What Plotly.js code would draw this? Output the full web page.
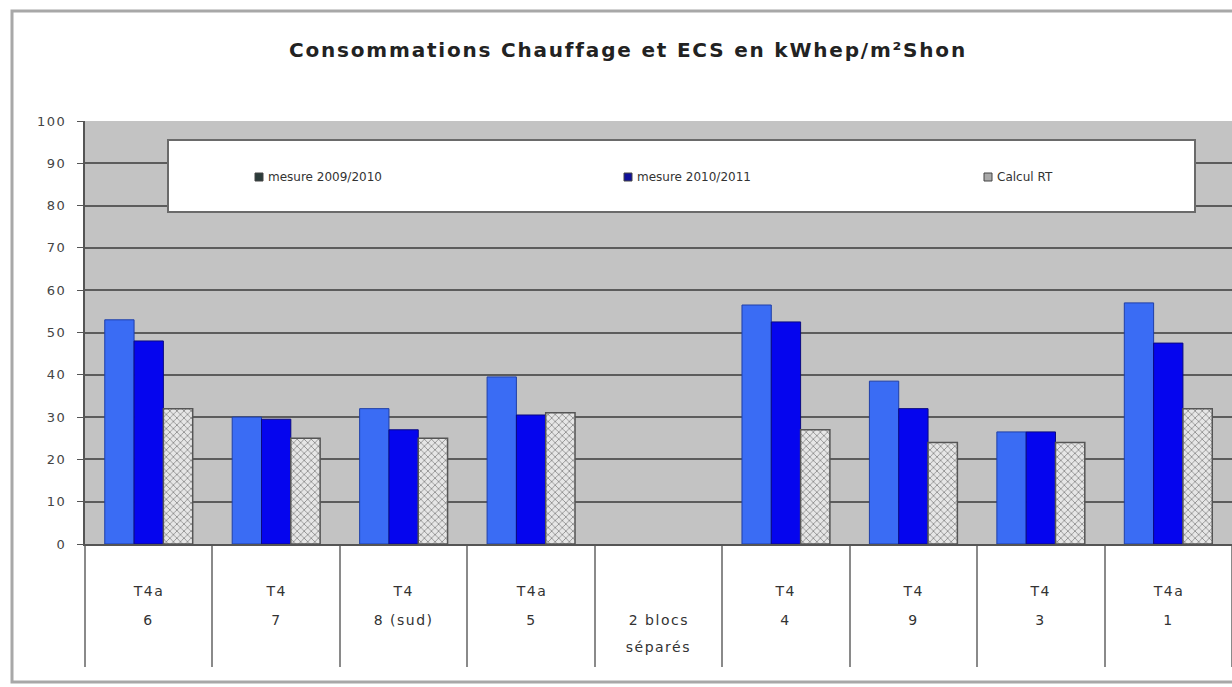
<!DOCTYPE html>
<html>
<head>
<meta charset="utf-8">
<script src="https://cdn.plot.ly/plotly-3.0.1.min.js"></script>
<style>
  html, body { margin: 0; padding: 0; background: #ffffff; }
  #chart { width: 1232px; height: 687px; }
  /* wide lettering for the title and table text */
  #chart .gtitle { letter-spacing: 1.8px; }
  #chart .ytick text { letter-spacing: 1.5px; }
  #chart .annotation.cat-label text { letter-spacing: 1.5px; }
</style>
</head>
<body>
<div id="chart"></div>
<script>
// Logement types and lot numbers (two rows of the category table)
const logementTypes = ["T4a", "T4", "T4", "T4a", "", "T4", "T4", "T4", "T4a"];
const lotLabels = ["6", "7", "8 (sud)", "5", "2 blocs<br>séparés", "4", "9", "3", "1"];
const categories = ["c6", "c7", "c8", "c5", "sep", "c4", "c9", "c3", "c1"];

// Consumption (kWhep/m²Shon)
const mesure0910 = [53, 30, 32, 39.5, null, 56.5, 38.5, 26.5, 57];
const mesure1011 = [48, 29.5, 27, 30.5, null, 52.5, 32, 26.5, 47.5];
const calculRT = [32, 25, 25, 31, null, 27, 24, 24, 32];

const seriesNames = ["mesure 2009/2010", "mesure 2010/2011", "Calcul RT"];
const legendSwatch = ["#2b3b3a", "#10109a", "#a9a9a9"];
const yTicks = [0, 10, 20, 30, 40, 50, 60, 70, 80, 90, 100];

const W = 1232, H = 687;
const M = { l: 85, r: 0, t: 121, b: 143 };
const plotW = W - M.l - M.r, plotH = H - M.t - M.b;
const px = x => (x - M.l) / plotW;          // pixel -> paper x
const py = y => (H - M.b - y) / plotH;      // pixel -> paper y

const font = "DejaVu Sans, Arial, sans-serif";

const traces = [
  {
    type: "bar", x: categories, y: mesure0910, name: seriesNames[0],
    marker: { color: "#3a6cf4", line: { color: "#1f3fa8", width: 1 } }, hoverinfo: "y"
  },
  {
    type: "bar", x: categories, y: mesure1011, name: seriesNames[1],
    marker: { color: "#0505ee", line: { color: "#0a0a80", width: 1 } }, hoverinfo: "y"
  },
  {
    type: "bar", x: categories, y: calculRT, name: seriesNames[2],
    marker: {
      color: "#e6e6e6",
      pattern: { shape: "x", fgcolor: "#8a8a8a", bgcolor: "#e6e6e6", size: 5, solidity: 0.3 },
      line: { color: "#555555", width: 1.5 }
    },
    hoverinfo: "y"
  }
];

// category table text under the axis
const annotations = [];
categories.forEach((c, i) => {
  if (logementTypes[i]) {
    annotations.push({ x: c, xref: "x", y: 0, yref: "y", yshift: -47, yanchor: "middle",
      text: logementTypes[i], showarrow: false, font: { family: font, size: 14, color: "#333" } });
  }
  lotLabels[i].split("<br>").forEach((line, k) => {
    annotations.push({ x: c, xref: "x", y: 0, yref: "y", yshift: -76 - 27 * k, yanchor: "middle",
      text: line, showarrow: false, font: { family: font, size: 14, color: "#333" } });
  });
});
const nCatLabels = annotations.length;

const shapes = [
  // outer chart frame
  { type: "rect", xref: "paper", yref: "paper", x0: px(12), x1: px(1260), y0: py(682), y1: py(11),
    line: { color: "#a8a8a8", width: 3 }, fillcolor: "rgba(0,0,0,0)", layer: "below" },
  // legend box
  { type: "rect", xref: "paper", yref: "paper", x0: px(168), x1: px(1195), y0: py(212), y1: py(140),
    line: { color: "#6a6a6a", width: 2 }, fillcolor: "#ffffff", layer: "above" }
];

// legend entries: swatch + label
const legendX = [255, 624, 984];
seriesNames.forEach((name, i) => {
  const x0 = legendX[i];
  shapes.push({ type: "rect", xref: "paper", yref: "paper",
    x0: px(x0), x1: px(x0 + 8), y0: py(181), y1: py(173),
    line: { color: "#444", width: 1 }, fillcolor: legendSwatch[i], layer: "above" });
  annotations.push({ xref: "paper", yref: "paper", x: px(x0 + 11), y: py(177),
    xanchor: "left", yanchor: "middle", text: name, showarrow: false,
    font: { family: font, size: 12, color: "#333" } });
});

const layout = {
  width: W, height: H,
  margin: M,
  paper_bgcolor: "#ffffff",
  plot_bgcolor: "#c3c3c3",
  font: { family: font, size: 12, color: "#333" },
  title: {
    text: "<b>Consommations Chauffage et ECS en kWhep/m²Shon</b>",
    font: { family: font, size: 20, color: "#222" },
    x: 628 / W, xanchor: "center", y: 1 - 50 / H, yanchor: "middle"
  },
  barmode: "group",
  bargap: 0.31,
  bargroupgap: 0,
  showlegend: false,
  xaxis: {
    type: "category", categoryorder: "array", categoryarray: categories,
    showticklabels: false, tickson: "boundaries", ticks: "outside",
    ticklen: 121, tickwidth: 2, tickcolor: "#8a8a8a",
    showgrid: false, showline: true, linecolor: "#555", linewidth: 2, zeroline: false,
    fixedrange: true
  },
  yaxis: {
    range: [0, 100], tickvals: yTicks, ticktext: yTicks.map(String),
    ticks: "outside", ticklen: 6, tickcolor: "#555", tickwidth: 1,
    ticklabelstandoff: 8,
    tickfont: { family: font, size: 13, color: "#444" },
    showgrid: true, gridcolor: "#5c5c5c", gridwidth: 2,
    showline: true, linecolor: "#555", linewidth: 2, zeroline: false,
    fixedrange: true
  },
  annotations: annotations,
  shapes: shapes
};

Plotly.newPlot("chart", traces, layout, { displayModeBar: false, staticPlot: true }).then(gd => {
  // mark the category-table annotations so their lettering can be spaced
  gd.querySelectorAll(".annotation").forEach((el, i) => {
    if (i < nCatLabels) el.classList.add("cat-label");
  });
});
</script>
</body>
</html>
